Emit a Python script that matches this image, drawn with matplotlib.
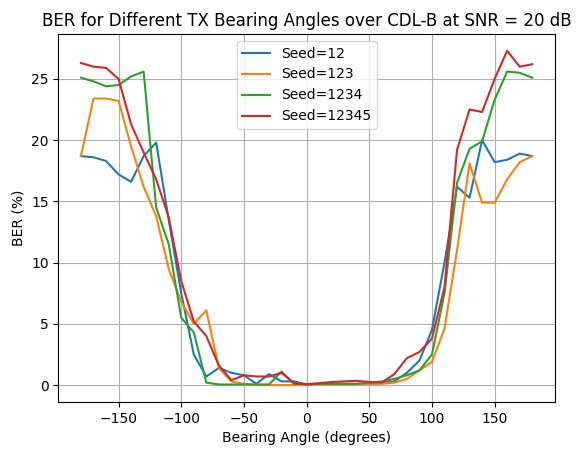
import matplotlib
matplotlib.use("Agg")
import matplotlib.pyplot as plt
import numpy as np

angles = list(range(-180, 181, 10))
seed12 = [18.7, 18.6, 18.3, 17.2, 16.6, 18.7, 19.8, 13.5, 7.5, 2.5, 0.7, 1.4, 1.0, 0.8, 0.1, 0.9, 0.3, 0.3,
          0.05, 0.1, 0.1, 0.1, 0.1, 0.1, 0.2, 0.3, 1.0, 2.0, 4.5, 10.0, 16.2, 15.3, 20.0, 18.2, 18.4, 18.9, 18.7]
seed123 = [18.7, 23.4, 23.4, 23.2, 19.5, 16.2, 13.8, 9.5, 6.8, 5.0, 6.1, 1.4, 0.3, 0.1, 0.0, 0.0, 0.0, 0.0,
           0.05, 0.05, 0.05, 0.05, 0.05, 0.1, 0.1, 0.2, 0.5, 1.2, 1.9, 4.6, 11.0, 18.1, 14.9, 14.9, 16.8, 18.2, 18.7]
seed1234 = [25.1, 24.8, 24.4, 24.5, 25.2, 25.6, 14.5, 11.5, 5.5, 4.3, 0.2, 0.05, 0.05, 0.05, 0.05, 0.05, 1.1, 0.1,
            0.1, 0.1, 0.1, 0.1, 0.1, 0.2, 0.3, 0.5, 0.8, 1.2, 2.5, 7.5, 16.5, 19.3, 19.9, 23.3, 25.6, 25.5, 25.1]
seed12345 = [26.3, 26.0, 25.9, 25.0, 21.3, 19.0, 16.8, 13.7, 8.5, 5.2, 4.0, 1.6, 0.4, 0.8, 0.7, 0.7, 1.0, 0.15,
             0.05, 0.15, 0.25, 0.3, 0.35, 0.25, 0.2, 0.9, 2.2, 2.7, 3.8, 8.0, 19.2, 22.5, 22.3, 25.0, 27.3, 26.0, 26.2]

fig, ax = plt.subplots(figsize=(5.84, 4.54), dpi=100)
for lab, ys in [("Seed=12", seed12), ("Seed=123", seed123), ("Seed=1234", seed1234), ("Seed=12345", seed12345)]:
    ax.plot(angles, ys, label=lab)
ax.set_title("BER for Different TX Bearing Angles over CDL-B at SNR = 20 dB")
ax.set_xlabel("Bearing Angle (degrees)")
ax.set_ylabel("BER (%)")
ax.grid(True)
ax.legend(loc="upper center")
fig.subplots_adjust(left=0.10, right=0.95, bottom=0.115, top=0.925)
fig.savefig("out.png")
